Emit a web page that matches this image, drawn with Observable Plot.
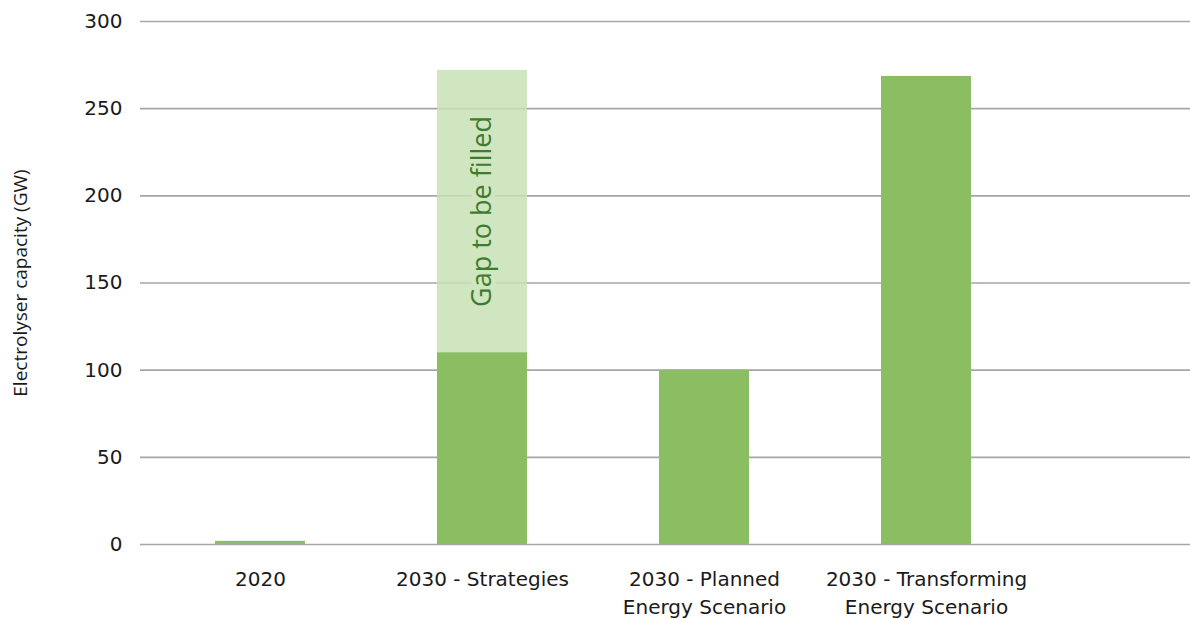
<!DOCTYPE html>
<html>
<head>
<meta charset="utf-8">
<script src="https://cdn.jsdelivr.net/npm/d3@7"></script>
<script src="https://cdn.jsdelivr.net/npm/@observablehq/plot@0.6"></script>
<style>
  html, body { margin: 0; padding: 0; background: #fff; }
</style>
</head>
<body>
<div id="chart"></div>
<script>
const categories = ["2020", "2030 - Strategies", "2030 - Planned Energy Scenario", "2030 - Transforming Energy Scenario"];
const tickLabels = ["2020", "2030 - Strategies", "2030 - Planned\nEnergy Scenario", "2030 - Transforming\nEnergy Scenario"];
const capacity = [1.8, 110, 100, 268.5];
const gapToFill = [0, 162, 0, 0];
const yTicks = [0, 50, 100, 150, 200, 250, 300];
const gapLabel = "Gap to be filled";
const yLabel = "Electrolyser capacity (GW)";

const rows = categories.map((c, i) => ({cat: c, value: capacity[i], gap: gapToFill[i]}));
const gapRows = rows.filter(d => d.gap > 0);
const gridInGap = gapRows.flatMap(d => yTicks.filter(t => t > d.value && t < d.value + d.gap).map(t => ({cat: d.cat, y: t})));

const chart = Plot.plot({
  width: 1190,
  height: 619,
  marginLeft: 140,
  marginRight: 0,
  marginTop: 21,
  marginBottom: 75,
  style: {fontFamily: "'DejaVu Sans', sans-serif", fontSize: "20px", color: "#1a1a1a", background: "#fff"},
  x: {domain: categories, range: [148, 1037], paddingInner: 0.595, paddingOuter: 0.2975},
  y: {domain: [0, 300]},
  marks: [
    Plot.ruleY(yTicks, {stroke: "#a6a6a6", strokeWidth: 1.6}),
    Plot.barY(gapRows, {x: "cat", y1: "value", y2: d => d.value + d.gap, fill: "#D0E6C0"}),
    Plot.tickY(gridInGap, {x: "cat", y: "y", stroke: "#c2d6b4", strokeWidth: 1.6}),
    Plot.barY(rows, {x: "cat", y: "value", fill: "#8BBE62"}),
    Plot.text(gapRows, {x: "cat", y: d => d.value + d.gap / 2, text: () => gapLabel, rotate: -90, fontSize: 27, fontFamily: "'Open Sans', sans-serif", fill: "#3E7B2E", stroke: "#D0E6C0", strokeWidth: 10}),
    Plot.axisY({ticks: yTicks, tickSize: 0, tickPadding: 18, fontSize: 20, label: null}),
    Plot.text([yLabel], {frameAnchor: "left", textAnchor: "middle", rotate: -90, dx: -120, fontSize: 19, fontFamily: "'Open Sans', sans-serif", fill: "#1a1a1a"}),
    Plot.axisX({tickSize: 0, tickPadding: 22, fontSize: 20, lineHeight: 1.4, tickFormat: d => tickLabels[categories.indexOf(d)], label: null})
  ]
});
document.getElementById("chart").appendChild(chart);
</script>
</body>
</html>
